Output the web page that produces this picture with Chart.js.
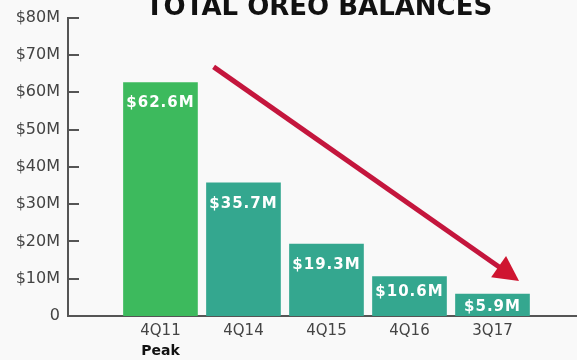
<!DOCTYPE html>
<html>
<head>
<meta charset="utf-8">
<script src="https://cdn.jsdelivr.net/npm/chart.js@4.4.1/dist/chart.umd.min.js"></script>
<style>
  html, body { margin: 0; padding: 0; background: #f9f9f9; }
  #wrap { width: 577px; height: 360px; }
</style>
</head>
<body>
<div id="wrap"><canvas id="oreoChart" width="577" height="360"></canvas></div>
<script>
// Quarterly OREO balances, in millions of dollars
const quarters = ['4Q11', '4Q14', '4Q15', '4Q16', '3Q17'];
const balances = [62.6, 35.7, 19.3, 10.6, 5.9];
const yTicks = [0, 10, 20, 30, 40, 50, 60, 70, 80];
const titleText = 'TOTAL OREO BALANCES';
const peakNote = 'Peak';

// Trend arrow ends, in axis units (x = quarter index, y = $M)
const trendFrom = [0.64, 66.8];
const trendTo = [4.32, 9.4];

const peakColor = '#3dba5d';
const laterColor = '#34a78f';
const axisColor = '#555555';
const tickColor = '#444444';
const arrowColor = '#c4163d';

const fmtMoney = v => '$' + v.toFixed(1) + 'M';

// Paint the page background under the chart
const backgroundPlugin = {
  id: 'background',
  beforeDraw(chart) {
    const ctx = chart.ctx;
    ctx.save();
    ctx.fillStyle = '#f9f9f9';
    ctx.fillRect(0, 0, chart.width, chart.height);
    ctx.restore();
  }
};

// Extra drawing: inward tick marks, value labels, title, note and trend arrow
const overlayPlugin = {
  id: 'overlay',
  afterDraw(chart) {
    const ctx = chart.ctx;
    const area = chart.chartArea;
    const xs = chart.scales.x;
    const ys = chart.scales.y;
    ctx.save();

    // tick marks on the y axis point into the plot
    ctx.strokeStyle = axisColor;
    ctx.lineWidth = 2;
    ys.ticks.forEach(t => {
      if (t.value === 0) return;
      const y = Math.round(ys.getPixelForValue(t.value));
      ctx.beginPath();
      ctx.moveTo(area.left, y);
      ctx.lineTo(area.left + 11, y);
      ctx.stroke();
    });

    // value labels inside each bar
    const meta = chart.getDatasetMeta(0);
    ctx.fillStyle = '#ffffff';
    ctx.font = 'bold 15px "DejaVu Sans"';
    ctx.textAlign = 'center';
    ctx.textBaseline = 'middle';
    ctx.letterSpacing = '1px';
    meta.data.forEach((bar, i) => {
      const h = bar.base - bar.y;
      const off = Math.min(21, Math.max(0.4 * h, 13.5));
      ctx.fillText(fmtMoney(balances[i]), bar.x, bar.y + off);
    });
    ctx.letterSpacing = '0px';

    // "Peak" under the first quarter
    ctx.fillStyle = '#111111';
    ctx.font = 'bold 14px "DejaVu Sans"';
    ctx.fillText(peakNote, xs.getPixelForValue(0), 351);

    // chart title
    ctx.font = 'bold 26px "DejaVu Sans"';
    ctx.textBaseline = 'alphabetic';
    ctx.fillText(titleText, 319, 15);

    // downward trend arrow
    const x1 = xs.getPixelForValue(trendFrom[0]);
    const y1 = ys.getPixelForValue(trendFrom[1]);
    const x2 = xs.getPixelForValue(trendTo[0]);
    const y2 = ys.getPixelForValue(trendTo[1]);
    const ang = Math.atan2(y2 - y1, x2 - x1);
    const headLen = 25;
    const headHalf = 13;
    const bx = x2 - headLen * Math.cos(ang);
    const by = y2 - headLen * Math.sin(ang);
    ctx.strokeStyle = arrowColor;
    ctx.lineWidth = 5;
    ctx.lineCap = 'butt';
    ctx.beginPath();
    ctx.moveTo(x1, y1);
    ctx.lineTo(bx + 2 * Math.cos(ang), by + 2 * Math.sin(ang));
    ctx.stroke();
    ctx.fillStyle = '#cf1530';
    ctx.beginPath();
    ctx.moveTo(x2, y2);
    ctx.lineTo(bx + headHalf * Math.sin(ang), by - headHalf * Math.cos(ang));
    ctx.lineTo(bx - headHalf * Math.sin(ang), by + headHalf * Math.cos(ang));
    ctx.closePath();
    ctx.fill();

    ctx.restore();
  }
};

const ctx = document.getElementById('oreoChart').getContext('2d');

new Chart(ctx, {
  type: 'bar',
  data: {
    datasets: [{
      data: balances.map((v, i) => ({ x: i, y: v })),
      backgroundColor: balances.map((v, i) => i === 0 ? peakColor : laterColor),
      borderWidth: 0,
      barThickness: 74
    }]
  },
  options: {
    responsive: false,
    devicePixelRatio: 1,
    animation: false,
    layout: { padding: { top: 17, right: 0, bottom: 20, left: 0 } },
    plugins: {
      legend: { display: false },
      tooltip: { enabled: false },
      title: { display: false }
    },
    scales: {
      x: {
        type: 'linear',
        offset: false,
        bounds: 'data',
        min: -1.114,
        max: 5.018,
        afterBuildTicks: scale => {
          scale.ticks = quarters.map((q, i) => ({ value: i }));
        },
        afterFit: scale => { scale.height = 24; },
        ticks: {
          autoSkip: false,
          maxRotation: 0,
          padding: 6,
          color: tickColor,
          font: { family: 'DejaVu Sans', size: 15 },
          callback: v => quarters[v] || ''
        },
        grid: { display: false, drawTicks: false, offset: false },
        border: { display: true, color: axisColor, width: 2 }
      },
      y: {
        min: 0,
        max: 80,
        afterBuildTicks: scale => {
          scale.ticks = yTicks.map(v => ({ value: v }));
        },
        afterFit: scale => { scale.width = 68; },
        ticks: {
          padding: 8,
          color: tickColor,
          font: { family: 'DejaVu Sans', size: 16 },
          callback: v => v === 0 ? '0' : '$' + v + 'M'
        },
        grid: { display: false, drawTicks: false },
        border: { display: true, color: axisColor, width: 2 }
      }
    }
  },
  plugins: [backgroundPlugin, overlayPlugin]
});
</script>
</body>
</html>
